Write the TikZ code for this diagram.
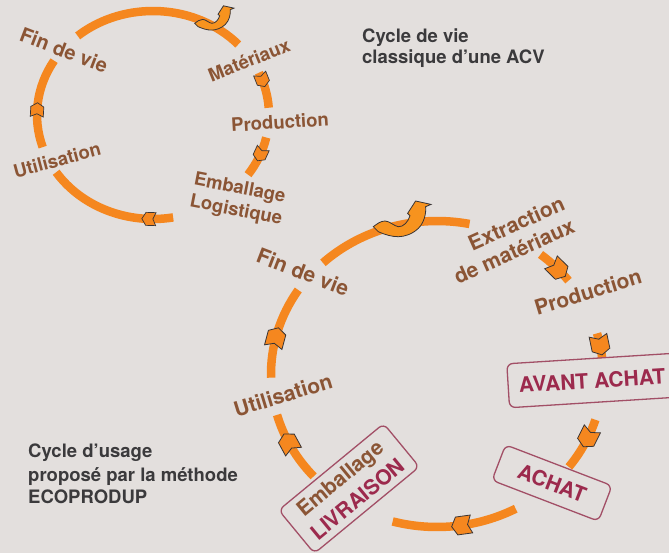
\documentclass[tikz,border=0pt]{standalone}
\usepackage{fontspec}
\setmainfont{TeX Gyre Heros}
\usetikzlibrary{decorations.markings}
\definecolor{bg}{HTML}{E3DFDD}
\definecolor{arcor}{HTML}{F5871F}
\definecolor{arrowor}{HTML}{F7931E}
\definecolor{brownt}{HTML}{8B5535}
\definecolor{maroont}{HTML}{9C2A4D}
\definecolor{boxline}{HTML}{A24F66}
\definecolor{darkt}{HTML}{3B3A3C}
\definecolor{chevline}{HTML}{3A3535}
\newcommand\chevsmall{\filldraw[fill=arcor, draw=chevline, line width=0.7pt, line join=miter] (-7,-6.5) -- (3,-6.5) -- (7,0) -- (3,6.5) -- (-7,6.5) -- (-4,0) -- cycle;}
\newcommand\chevbig{\filldraw[fill=arcor, draw=chevline, line width=0.8pt, line join=miter] (-10,-9) -- (5,-9) -- (10,0) -- (5,9) -- (-10,9) -- (-6,0) -- cycle;}
\newcommand\bentarrow[2]{\filldraw[fill=arrowor, draw=chevline, line width=0.8pt, shift={(#1)}, scale=#2]
  (0,0) .. controls (4,-3) and (7,-5.5) .. (11.7,-5.7) .. controls (16,-5.8) and (21,-0.5) .. (25,0)
  .. controls (30,0.5) and (35,-5) .. (36.7,-11) -- (34.3,-13.3) -- (42.3,-25.7) -- (57.7,-22.3) -- (52.3,-20)
  .. controls (53,-14) and (51,-4) .. (45,1.7) .. controls (39,7.5) and (31,10) .. (25,10)
  .. controls (18,10) and (12,8) .. (5,5) -- cycle;}
\tikzset{
  arcline/.style={draw=arcor, line width=8.5pt},
  chevS/.style={postaction={decorate, decoration={markings, mark=at position #1 with {\chevsmall}}}},
  chevB/.style={postaction={decorate, decoration={markings, mark=at position #1 with {\chevbig}}}},
  lbl/.style={text=brownt, font=\bfseries\fontsize{18.5}{22.5}\selectfont, inner sep=0pt},
  lblb/.style={text=brownt, font=\bfseries\fontsize{21}{24.5}\selectfont, inner sep=0pt},
  captxt/.style={text=darkt, font=\bfseries\fontsize{18.5}{22}\selectfont, inner sep=0pt, anchor=base west},
  tagbox/.style={draw=boxline, line width=1.3pt, rounded corners=6pt, text=maroont,
    font=\bfseries\fontsize{21}{27}\selectfont, align=center, inner sep=0pt}
}
\begin{document}
\begin{tikzpicture}[x=1pt,y=-1pt]
\useasboundingbox (0,0) rectangle (669,553);
\clip (0,0) rectangle (669,553);
\fill[bg] (0,0) rectangle (669,553);

% top circle
\coordinate (tc) at (153,115);
\draw[arcline] (tc) ++(-130.5:116 and 104) arc[start angle=-130.5, end angle=-42.7, x radius=116, y radius=104];
\draw[arcline, chevS=0.22] (tc) ++(-24:116 and 104) arc[start angle=-24, end angle=-4, x radius=116, y radius=104];
\draw[arcline, chevS=0.43] (tc) ++(12.5:116 and 104) arc[start angle=12.5, end angle=35, x radius=116, y radius=104];
\draw[arcline, chevS=0.185] (tc) ++(80:116 and 104) arc[start angle=80, end angle=146.6, x radius=116, y radius=104];
\draw[arcline, chevS=0.42] (tc) ++(162:116 and 104) arc[start angle=162, end angle=211.5, x radius=116, y radius=104];
\bentarrow{194.7,23.3}{0.68}

% bottom circle
\coordinate (bc) at (437,374);
\draw[arcline] (bc) ++(-133.4:166 and 153) arc[start angle=-133.4, end angle=-78.7, x radius=166, y radius=153];
\draw[arcline, chevB=0.6] (bc) ++(-51.4:166 and 153) arc[start angle=-51.4, end angle=-37.6, x radius=166, y radius=153];
\draw[arcline, chevB=0.48] (bc) ++(-15.4:166 and 153) arc[start angle=-15.4, end angle=-6, x radius=166, y radius=153];
\draw[arcline, chevB=0.36] (bc) ++(17.4:166 and 153) arc[start angle=17.4, end angle=37.4, x radius=166, y radius=153];
\draw[arcline, chevB=0.45] (bc) ++(61.7:166 and 153) arc[start angle=61.7, end angle=105.5, x radius=166, y radius=153];
\draw[arcline, chevB=0.58] (bc) ++(138:166 and 153) arc[start angle=138, end angle=164.5, x radius=166, y radius=153];
\draw[arcline, chevB=0.435] (bc) ++(178.6:166 and 153) arc[start angle=178.6, end angle=213.3, x radius=166, y radius=153];
\bentarrow{373.3,226.7}{1}

% top circle labels
\node[lbl, font=\bfseries\fontsize{20}{24}\selectfont, rotate=-21] (tfin) at (64,50) {Fin de vie};
\node[lbl, rotate=22] (tmat) at (249,60) {Matériaux};
\node[lbl, rotate=3.5] (tprod) at (280,122) {Production};
\node[lbl, rotate=-11, align=left] (temb) at (238,200) {Emballage\\Logistique};
\node[lbl, rotate=15] (tuti) at (57,160) {Utilisation};

% bottom circle labels
\node[lblb, rotate=-21] (bfin) at (303,272) {Fin de vie};
\node[lblb, rotate=24, align=right] (bext) at (509,240) {Extraction\\de matériaux};
\node[lblb, rotate=17] (bprod) at (588,292) {Production};
\node[lblb, rotate=17] (buti) at (283,395) {Utilisation};

% boxes
\node[tagbox, rotate=3.6, minimum width=168pt, minimum height=44pt] (avant) at (592,380.5) {AVANT ACHAT};
\node[tagbox, rotate=-21, minimum width=114pt, minimum height=38pt] (achat) at (552,483) {ACHAT};
\node[tagbox, rotate=39.5, minimum width=136pt, minimum height=56pt] (livr) at (349,488.5) {{\color{brownt}Emballage}\\LIVRAISON};

% captions
\node[captxt] (c1a) at (362,43) {Cycle de vie};
\node[captxt] (c1b) at (362,64) {classique d’une ACV};
\node[captxt] (c2a) at (28,457) {Cycle d’usage};
\node[captxt] (c2b) at (28,481) {proposé par la méthode};
\node[captxt] (c2c) at (28,503) {ECOPRODUP};
\end{tikzpicture}
\end{document}
